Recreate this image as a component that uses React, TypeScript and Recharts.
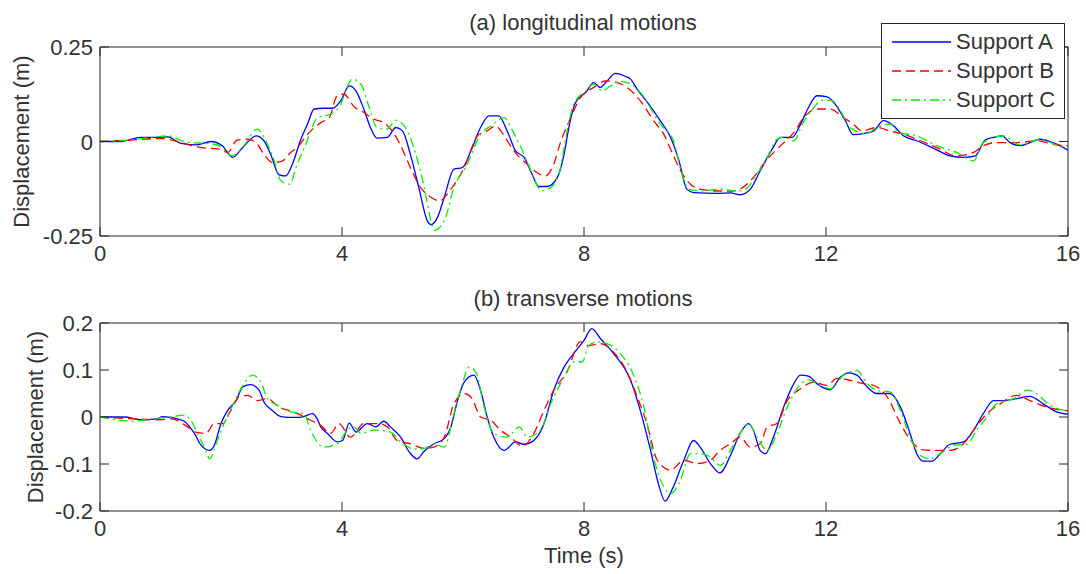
import React from "react";
import { LineChart, Line, XAxis, YAxis, ReferenceArea } from "recharts";

// [time (s), displacement (m)]
const longA: [number, number][] = [
  [0, 0], [0.35, 0], [0.5, 0.005], [0.68, 0.011], [0.95, 0.011], [1.12, 0.012], [1.34, -0.005], [1.6, -0.009],
  [1.83, 0], [2.02, -0.011], [2.19, -0.042], [2.36, -0.016], [2.58, 0.015], [2.71, 0.002], [2.82, -0.034],
  [2.96, -0.088], [3.07, -0.091], [3.18, -0.06], [3.32, 0.006], [3.43, 0.046], [3.54, 0.086], [3.7, 0.088],
  [3.84, 0.088], [3.98, 0.108], [4.12, 0.147], [4.23, 0.134], [4.36, 0.086], [4.47, 0.037], [4.58, 0.009],
  [4.75, 0.011], [4.89, 0.037], [5.0, 0.028], [5.13, -0.034], [5.27, -0.122], [5.41, -0.21], [5.47, -0.22],
  [5.58, -0.2], [5.69, -0.148], [5.85, -0.073], [5.99, -0.069], [6.13, -0.025], [6.29, 0.037], [6.43, 0.068],
  [6.59, 0.068], [6.73, 0.028], [6.87, -0.025], [7.01, -0.042], [7.14, -0.086], [7.25, -0.119], [7.39, -0.119],
  [7.56, -0.095], [7.67, -0.034], [7.75, 0.037], [7.86, 0.103], [8.03, 0.13], [8.16, 0.156], [8.27, 0.143],
  [8.38, 0.16], [8.52, 0.18], [8.66, 0.174], [8.77, 0.165], [8.88, 0.138], [9.07, 0.099], [9.26, 0.055],
  [9.43, 0.011], [9.57, -0.051], [9.7, -0.126], [9.81, -0.135], [10.2, -0.137], [10.42, -0.136], [10.58, -0.141],
  [10.75, -0.126], [10.91, -0.078], [11.11, -0.02], [11.25, 0.011], [11.44, 0.011], [11.58, 0.046], [11.71, 0.09],
  [11.85, 0.121], [12.02, 0.118], [12.15, 0.099], [12.32, 0.055], [12.45, 0.018], [12.62, 0.021], [12.79, 0.028],
  [12.95, 0.055], [13.12, 0.041], [13.28, 0.015], [13.5, 0.002], [13.78, -0.018], [14.05, -0.038], [14.27, -0.042],
  [14.47, -0.038], [14.63, 0.004], [14.77, 0.011], [14.91, 0.015], [15.04, -0.003], [15.21, -0.011], [15.37, -0.003],
  [15.54, 0.006], [15.7, 0], [15.84, -0.009], [16, -0.023],
];

const longB: [number, number][] = [
  [0, 0], [0.5, 0.004], [1.0, 0.008], [1.12, 0.006], [1.39, -0.005], [1.67, -0.016], [1.97, -0.02], [2.11, -0.029],
  [2.27, 0.004], [2.44, 0.006], [2.58, -0.003], [2.71, -0.034], [2.85, -0.056], [3.02, -0.051], [3.15, -0.029],
  [3.26, -0.016], [3.43, 0.019], [3.65, 0.05], [3.79, 0.063], [3.92, 0.121], [4.03, 0.125], [4.2, 0.092],
  [4.36, 0.077], [4.53, 0.059], [4.69, 0.05], [4.83, 0.028], [4.97, -0.011], [5.13, -0.069], [5.3, -0.122],
  [5.44, -0.144], [5.61, -0.157], [5.8, -0.126], [6.02, -0.069], [6.24, 0.015], [6.4, 0.028], [6.54, 0.041],
  [6.68, 0.015], [6.84, -0.025], [7.06, -0.06], [7.22, -0.082], [7.36, -0.091], [7.5, -0.06], [7.61, -0.003],
  [7.78, 0.063], [7.94, 0.116], [8.16, 0.143], [8.36, 0.16], [8.55, 0.156], [8.71, 0.143], [8.93, 0.108],
  [9.15, 0.055], [9.32, 0.019], [9.43, -0.02], [9.6, -0.078], [9.76, -0.113], [9.92, -0.126], [10.25, -0.131],
  [10.45, -0.131], [10.58, -0.126], [10.8, -0.095], [11.03, -0.047], [11.25, -0.011], [11.47, 0.024],
  [11.63, 0.063], [11.85, 0.086], [12.07, 0.086], [12.29, 0.063], [12.45, 0.046], [12.59, 0.028], [12.84, 0.037],
  [13.06, 0.028], [13.28, 0.019], [13.5, 0.006], [13.83, -0.016], [14.16, -0.038], [14.44, -0.029], [14.6, -0.011],
  [14.82, -0.003], [15.15, -0.003], [15.48, 0.002], [15.81, -0.009], [16, -0.011],
];

const longC: [number, number][] = [
  [0, 0], [0.5, 0.004], [0.9, 0.012], [1.12, 0.015], [1.39, 0], [1.5, -0.003], [1.75, -0.005], [1.94, -0.009],
  [2.19, -0.038], [2.38, -0.011], [2.6, 0.033], [2.74, 0.002], [2.88, -0.051], [2.99, -0.104], [3.13, -0.113],
  [3.26, -0.06], [3.4, -0.007], [3.6, 0.063], [3.81, 0.072], [3.95, 0.09], [4.17, 0.165], [4.31, 0.152],
  [4.45, 0.09], [4.58, 0.037], [4.75, 0.033], [4.89, 0.056], [5.05, 0.037], [5.22, -0.034], [5.36, -0.122],
  [5.47, -0.21], [5.52, -0.235], [5.69, -0.21], [5.85, -0.122], [6.07, -0.06], [6.29, 0.019], [6.46, 0.041],
  [6.68, 0.063], [6.82, 0.028], [6.96, -0.016], [7.1, -0.069], [7.3, -0.13], [7.45, -0.122], [7.61, -0.069],
  [7.72, 0.028], [7.83, 0.099], [8.03, 0.134], [8.16, 0.152], [8.3, 0.134], [8.44, 0.147], [8.6, 0.159],
  [8.77, 0.152], [8.93, 0.13], [9.26, 0.046], [9.48, 0.002], [9.59, -0.069], [9.73, -0.126], [9.92, -0.131],
  [10.25, -0.126], [10.53, -0.131], [10.67, -0.126], [10.86, -0.086], [11.03, -0.042], [11.19, 0.006],
  [11.3, 0.011], [11.47, 0.002], [11.61, 0.046], [11.8, 0.09], [11.93, 0.109], [12.1, 0.108], [12.24, 0.081],
  [12.4, 0.037], [12.67, 0.021], [12.84, 0.037], [13.06, 0.046], [13.2, 0.024], [13.5, 0.015], [13.83, -0.011],
  [14.16, -0.029], [14.44, -0.051], [14.6, -0.003], [14.93, 0.015], [15.21, -0.009], [15.54, 0.006],
  [15.81, -0.009], [16, -0.014],
];

const transA: [number, number][] = [
  [0, 0], [0.4, 0], [0.68, -0.006], [0.95, -0.004], [1.03, 0.001], [1.17, -0.001], [1.28, -0.004], [1.39, -0.009],
  [1.56, -0.035], [1.67, -0.06], [1.81, -0.071], [1.89, -0.06], [2.0, -0.014], [2.11, 0.014], [2.25, 0.035],
  [2.36, 0.064], [2.49, 0.069], [2.63, 0.057], [2.71, 0.032], [2.85, 0.014], [2.99, 0.001], [3.21, -0.001],
  [3.37, 0.001], [3.51, 0.007], [3.59, -0.004], [3.65, -0.021], [3.76, -0.035], [3.92, -0.053], [4.01, -0.05],
  [4.12, -0.013], [4.23, -0.032], [4.42, -0.014], [4.56, -0.021], [4.69, -0.009], [4.8, -0.021], [4.97, -0.043],
  [5.11, -0.074], [5.24, -0.089], [5.35, -0.074], [5.52, -0.057], [5.69, -0.046], [5.8, -0.021], [5.91, 0.035],
  [6.02, 0.074], [6.18, 0.089], [6.29, 0.057], [6.4, 0], [6.51, -0.043], [6.68, -0.071], [6.87, -0.053],
  [7.01, -0.058], [7.17, -0.05], [7.34, -0.014], [7.5, 0.057], [7.67, 0.106], [7.83, 0.135], [8.0, 0.163],
  [8.13, 0.188], [8.27, 0.167], [8.49, 0.135], [8.77, 0.078], [8.93, 0.014], [9.1, -0.071], [9.23, -0.142],
  [9.34, -0.179], [9.45, -0.156], [9.65, -0.092], [9.81, -0.05], [9.92, -0.064], [10.09, -0.099], [10.25, -0.119],
  [10.42, -0.082], [10.58, -0.035], [10.72, -0.014], [10.8, -0.028], [10.91, -0.071], [11.0, -0.078],
  [11.13, -0.043], [11.3, 0.021], [11.44, 0.064], [11.58, 0.089], [11.71, 0.087], [11.85, 0.071], [12.07, 0.058],
  [12.24, 0.085], [12.37, 0.094], [12.51, 0.089], [12.68, 0.064], [12.84, 0.05], [13.06, 0.05], [13.23, 0.021],
  [13.39, -0.035], [13.5, -0.078], [13.61, -0.094], [13.75, -0.094], [13.89, -0.078], [14.05, -0.058],
  [14.27, -0.053], [14.44, -0.028], [14.6, 0.007], [14.77, 0.035], [14.93, 0.035], [15.15, 0.039], [15.37, 0.044],
  [15.59, 0.028], [15.81, 0.011], [16, 0.006],
];

const transB: [number, number][] = [
  [0, 0], [0.57, -0.004], [0.95, -0.006], [1.17, -0.004], [1.45, -0.021], [1.58, -0.032], [1.75, -0.035],
  [1.89, -0.014], [2.03, -0.014], [2.16, 0.014], [2.3, 0.043], [2.44, 0.046], [2.6, 0.035], [2.77, 0.039],
  [2.96, 0.021], [3.15, 0.013], [3.37, 0.001], [3.48, -0.007], [3.65, -0.018], [3.81, -0.035], [3.95, -0.014],
  [4.14, -0.043], [4.36, -0.014], [4.58, -0.014], [4.75, -0.021], [4.91, -0.05], [5.13, -0.057], [5.36, -0.067],
  [5.52, -0.064], [5.69, -0.043], [5.85, 0.028], [6.02, 0.05], [6.15, 0.039], [6.29, 0], [6.46, -0.007],
  [6.62, -0.028], [6.79, -0.043], [6.98, -0.062], [7.17, -0.035], [7.34, 0.014], [7.5, 0.057], [7.72, 0.096],
  [7.94, 0.16], [8.08, 0.152], [8.27, 0.156], [8.49, 0.138], [8.71, 0.096], [8.88, 0.043], [9.04, -0.014],
  [9.21, -0.092], [9.43, -0.113], [9.65, -0.092], [9.87, -0.099], [10.09, -0.092], [10.25, -0.071],
  [10.42, -0.057], [10.58, -0.043], [10.75, -0.064], [10.91, -0.057], [11.03, -0.021], [11.19, -0.014],
  [11.36, 0.035], [11.58, 0.06], [11.8, 0.074], [12.02, 0.067], [12.18, 0.082], [12.4, 0.078], [12.62, 0.071],
  [12.79, 0.067], [13.01, 0.043], [13.23, -0.014], [13.42, -0.053], [13.61, -0.07], [13.83, -0.071],
  [14.05, -0.071], [14.27, -0.057], [14.44, -0.028], [14.66, 0.007], [14.88, 0.028], [15.15, 0.046],
  [15.37, 0.035], [15.65, 0.021], [16, 0.013],
];

const transC: [number, number][] = [
  [0, 0], [0.57, -0.009], [0.84, -0.004], [1.17, 0], [1.39, 0.004], [1.5, -0.007], [1.64, -0.043], [1.75, -0.071],
  [1.81, -0.089], [1.94, -0.05], [2.05, -0.014], [2.22, 0.032], [2.38, 0.071], [2.52, 0.089], [2.66, 0.074],
  [2.77, 0.039], [2.93, 0.025], [3.15, 0.011], [3.37, 0.007], [3.48, -0.028], [3.7, -0.064], [3.92, -0.057],
  [4.09, -0.028], [4.2, -0.021], [4.31, -0.035], [4.53, -0.028], [4.8, -0.032], [4.97, -0.053], [5.19, -0.068],
  [5.36, -0.067], [5.52, -0.057], [5.69, -0.064], [5.85, 0.007], [5.99, 0.071], [6.1, 0.106], [6.21, 0.096],
  [6.35, 0.021], [6.51, -0.035], [6.73, -0.043], [6.93, -0.021], [7.06, -0.043], [7.28, -0.028], [7.45, 0.028],
  [7.67, 0.085], [7.83, 0.117], [7.97, 0.117], [8.08, 0.152], [8.22, 0.16], [8.38, 0.156], [8.6, 0.135],
  [8.82, 0.089], [8.99, 0.021], [9.15, -0.085], [9.32, -0.149], [9.43, -0.163], [9.59, -0.135], [9.76, -0.078],
  [9.92, -0.078], [10.09, -0.085], [10.25, -0.103], [10.42, -0.071], [10.58, -0.035], [10.72, -0.014],
  [10.86, -0.043], [11.03, -0.071], [11.19, -0.035], [11.36, 0.021], [11.52, 0.06], [11.71, 0.079],
  [11.91, 0.067], [12.07, 0.06], [12.29, 0.089], [12.51, 0.099], [12.68, 0.071], [12.84, 0.057], [13.06, 0.053],
  [13.23, 0.014], [13.39, -0.043], [13.56, -0.082], [13.72, -0.089], [13.89, -0.078], [14.11, -0.06],
  [14.33, -0.058], [14.49, -0.028], [14.66, 0], [14.82, 0.028], [15.1, 0.039], [15.32, 0.057], [15.48, 0.05],
  [15.7, 0.025], [16, 0.013],
];

const xTicks = [0, 4, 8, 12, 16];
const longTicks = [-0.25, 0, 0.25];
const transTicks = [-0.2, -0.1, 0, 0.1, 0.2];

const SERIES = [
  { name: "Support A", color: "#0000ff", dash: undefined as string | undefined },
  { name: "Support B", color: "#ff0000", dash: "9 5" },
  { name: "Support C", color: "#00f000", dash: "9 4 2 4" },
];

const FONT = "'Liberation Sans', Arial, sans-serif";
const TXT = "#333";
const AX = "#262626";
const W = 1086;
const PLOT_W = 968; // 100 -> 1068
const TICK = 9;

const toRows = (pts: [number, number][]) => pts.map(([t, v]) => ({ t, v }));

function XTick(props: any) {
  const { x, y, payload, plotH } = props;
  return (
    <g>
      <line x1={x} y1={y} x2={x} y2={y - TICK} stroke={AX} />
      <line x1={x} y1={y - plotH} x2={x} y2={y - plotH + TICK} stroke={AX} />
      <text x={x} y={y + 25} textAnchor="middle" fontSize={22} fontFamily={FONT} fill={TXT}>
        {payload.value}
      </text>
    </g>
  );
}

function YTick(props: any) {
  const { x, y, payload } = props;
  return (
    <g>
      <line x1={x} y1={y} x2={x + TICK} y2={y} stroke={AX} />
      <line x1={x + PLOT_W - TICK} y1={y} x2={x + PLOT_W} y2={y} stroke={AX} />
      <text x={x - 7} y={y + 8} textAnchor="end" fontSize={22} fontFamily={FONT} fill={TXT}>
        {payload.value}
      </text>
    </g>
  );
}

function Panel({
  series,
  yMax,
  yTicks,
  height,
  top,
  xAxisH,
}: {
  series: [number, number][][];
  yMax: number;
  yTicks: number[];
  height: number;
  top: number;
  xAxisH: number;
}) {
  const plotH = height - top - xAxisH;
  return (
    <LineChart width={W} height={height} margin={{ top, right: 18, left: 0, bottom: 0 }}>
      <XAxis
        type="number"
        dataKey="t"
        domain={[0, 16]}
        ticks={xTicks}
        allowDataOverflow
        height={xAxisH}
        axisLine={false}
        tickLine={false}
        tickSize={0}
        tickMargin={0}
        interval={0}
        tick={(p: any) => <XTick {...p} plotH={plotH} />}
      />
      <YAxis
        type="number"
        domain={[-yMax, yMax]}
        ticks={yTicks}
        allowDataOverflow
        width={100}
        axisLine={false}
        tickLine={false}
        tickSize={0}
        tickMargin={0}
        interval={0}
        tick={(p: any) => <YTick {...p} />}
      />
      <ReferenceArea
        x1={0}
        x2={16}
        y1={-yMax}
        y2={yMax}
        fill="none"
        fillOpacity={0}
        stroke={AX}
        strokeWidth={1}
        ifOverflow="visible"
      />
      {series.map((pts, i) => (
        <Line
          key={SERIES[i].name}
          data={toRows(pts)}
          dataKey="v"
          name={SERIES[i].name}
          type="monotone"
          stroke={SERIES[i].color}
          strokeWidth={1.3}
          strokeDasharray={SERIES[i].dash}
          dot={false}
          activeDot={false}
          isAnimationActive={false}
        />
      ))}
    </LineChart>
  );
}

function LegendBox() {
  return (
    <div
      style={{
        position: "absolute",
        left: 881,
        top: 23,
        width: 182,
        height: 94,
        background: "#fff",
        border: `1px solid ${AX}`,
        fontFamily: FONT,
        fontSize: 22,
        color: TXT,
      }}
    >
      {SERIES.map((s, i) => (
        <div
          key={s.name}
          style={{ position: "absolute", left: 0, top: 4 + i * 29, height: 28, display: "flex", alignItems: "center" }}
        >
          <svg width={74} height={28}>
            <line x1={10} y1={14} x2={69} y2={14} stroke={s.color} strokeWidth={1.3} strokeDasharray={s.dash} />
          </svg>
          <span style={{ whiteSpace: "nowrap", lineHeight: "28px" }}>{s.name}</span>
        </div>
      ))}
    </div>
  );
}

export default function App() {
  return (
    <div style={{ position: "absolute", left: 0, top: 0, width: W, height: 574, background: "#fff" }}>
      <div style={{ position: "absolute", left: 0, top: 0 }}>
        <Panel series={[longA, longB, longC]} yMax={0.25} yTicks={longTicks} height={270} top={47} xAxisH={34} />
      </div>
      <div style={{ position: "absolute", left: 0, top: 270 }}>
        <Panel series={[transA, transB, transC]} yMax={0.2} yTicks={transTicks} height={304} top={53} xAxisH={63} />
      </div>
      <svg width={W} height={574} style={{ position: "absolute", left: 0, top: 0, pointerEvents: "none" }}>
        <g fontFamily={FONT} fontSize={22} fill={TXT} textAnchor="middle">
          <text x={583} y={30}>(a) longitudinal motions</text>
          <text x={583} y={305.5}>(b) transverse motions</text>
          <text x={584} y={562.5}>Time (s)</text>
          <text transform="translate(29,141.5) rotate(-90)">Displacement (m)</text>
          <text transform="translate(42.5,417) rotate(-90)">Displacement (m)</text>
        </g>
      </svg>
      <LegendBox />
    </div>
  );
}
